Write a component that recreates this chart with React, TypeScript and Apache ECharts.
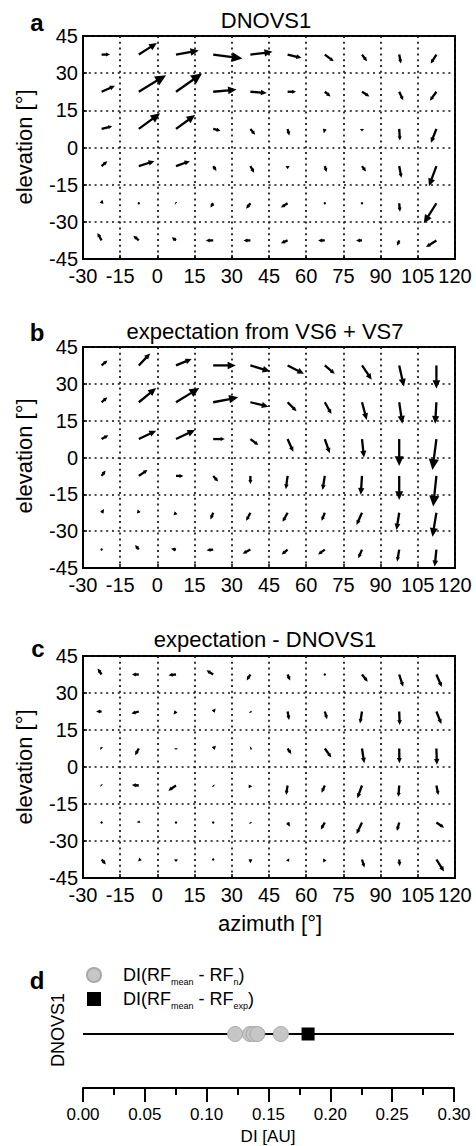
import React, { useEffect, useRef } from 'react';
import * as echarts from 'echarts';

const FONT = "'Liberation Sans', Arial, Helvetica, sans-serif";
const W = 476;
const H = 1146;

// grid of vector tails (cell centres)
const azimuths = [-22.5, -7.5, 7.5, 22.5, 37.5, 52.5, 67.5, 82.5, 97.5, 112.5];
const elevations = [37.5, 22.5, 7.5, -7.5, -22.5, -37.5];

// panel a: DNOVS1 (u = azimuth component, v = elevation component, degrees)
const panelA_U = [
  [3.4, 7.3, 9.2, 11.8, 8.9, 5.6, 3.6, 2.0, 0.7, -2.3],
  [5.4, 11.0, 10.5, 9.4, 6.6, 3.4, 2.3, 3.0, 1.6, -2.6],
  [4.3, 8.6, 7.7, 3.0, 1.9, 0.7, -0.4, 0.0, 0.3, -2.2],
  [2.3, 6.3, 5.6, 1.3, 1.5, 0.0, 0.7, 1.6, 0.9, -3.0],
  [0.3, 0.2, -0.3, -1.1, -1.7, -2.7, 0.0, 0.1, 0.3, -5.1],
  [-1.7, -2.2, -1.7, -3.0, -2.8, -2.7, -2.7, -2.4, -0.8, -4.2],
];
const panelA_V = [
  [0.0, 4.7, 1.6, -1.6, 1.1, -1.3, -2.7, -2.7, -3.6, -3.6],
  [2.4, 6.7, 7.4, 0.9, -0.5, 0.0, -1.9, -1.9, -3.4, -3.6],
  [1.1, 6.3, 5.6, -0.7, -2.4, -2.7, -1.7, -1.0, -4.7, -5.6],
  [2.0, 2.0, 2.0, -2.0, -2.7, -1.3, -2.4, -2.2, -4.7, -8.1],
  [1.4, 0.2, 0.3, -1.7, -2.2, -1.7, -0.4, 0.3, -3.4, -8.1],
  [3.0, 1.9, 1.3, 0.0, 0.0, -1.1, 0.0, 0.0, -2.2, -2.7],
];

// panel b: expectation from VS6 + VS7
const panelB_U = [
  [2.4, 4.6, 6.3, 9.1, 7.9, 6.6, 4.0, 3.9, 1.9, 0.0],
  [2.3, 7.0, 9.4, 10.1, 7.3, 3.6, 2.7, 1.9, 1.3, -0.5],
  [2.7, 7.0, 7.7, 4.7, 3.2, 2.3, 2.0, 0.8, 0.0, -1.6],
  [1.6, 3.5, 3.0, 2.0, 0.0, -0.7, -0.9, -0.5, 0.0, -1.3],
  [1.0, -0.5, -1.0, -1.1, -1.7, -2.0, -1.3, -2.2, -1.1, -1.6],
  [0.0, -1.5, -2.0, -2.7, -3.1, -2.4, -2.7, -1.5, -0.8, -0.7],
];
const panelB_V = [
  [2.0, 4.9, 2.6, 0.0, -2.4, -3.4, -3.4, -5.8, -8.6, -9.5],
  [2.0, 5.8, 5.8, 2.0, -1.8, -3.7, -4.8, -7.2, -8.8, -8.8],
  [1.6, 3.4, 3.7, 0.0, -2.4, -5.2, -5.8, -7.5, -11.0, -12.6],
  [2.2, 2.4, 0.0, -2.3, -3.3, -5.4, -5.7, -7.7, -9.8, -12.5],
  [1.5, 1.3, -1.0, -2.7, -3.3, -3.7, -3.3, -5.0, -7.0, -9.8],
  [0.4, 1.9, 0.3, -0.3, -1.7, -2.0, -2.0, -3.5, -4.9, -6.9],
];

// panel c: expectation - DNOVS1
const panelC_U = [
  [-1.6, -2.8, -3.0, -2.7, -1.5, 1.0, 0.1, 2.3, 1.6, 2.2],
  [-2.2, -3.0, -1.0, 1.0, 0.3, 0.6, 0.9, -0.8, 0.2, 2.0],
  [-0.5, -1.5, 0.0, 1.1, 0.6, 1.5, 2.6, 0.9, 0.1, 0.2],
  [-0.3, -2.8, -3.1, 0.3, -0.7, -0.6, -1.3, -1.9, -0.3, 0.8],
  [0.0, 0.1, -0.3, 0.0, 0.2, 0.9, -1.6, -2.2, -0.9, 3.1],
  [1.7, 1.2, 0.0, 0.0, 0.0, 0.6, -0.6, 1.0, 0.2, 3.1],
];
const panelC_V = [
  [2.4, 0.0, -0.3, 1.7, -2.4, -2.4, 0.0, -2.9, -5.0, -5.1],
  [0.0, -0.8, -1.2, 1.2, -0.5, -3.4, -3.1, -4.9, -5.5, -5.1],
  [0.5, -2.7, -0.5, 1.1, 0.2, -2.2, -3.6, -6.0, -6.0, -6.6],
  [0.3, 0.2, -2.1, -0.4, -1.1, -3.8, -2.9, -5.2, -4.6, -3.9],
  [0.2, 0.8, 0.0, -0.1, -0.4, -1.7, -2.8, -4.7, -3.4, -2.1],
  [-2.0, -0.3, -1.0, -0.2, -1.5, -0.9, -1.2, -3.2, -2.7, -4.9],
];

const panelTitles = ['DNOVS1', 'expectation from VS6 + VS7', 'expectation - DNOVS1'];

// panel d
const diNames = ['DI(RF_mean - RF_n)', 'DI(RF_mean - RF_exp)'];
const diSingle = [0.123, 0.135, 0.138, 0.141, 0.16];
const diExpected = [0.182];

function toQuiver(U: number[][], V: number[][]) {
  const out: number[][] = [];
  elevations.forEach((el, r) =>
    azimuths.forEach((az, c) => out.push([az, el, U[r][c], V[r][c]]))
  );
  return out;
}

const renderArrow = (_params: any, api: any) => {
  const x = api.value(0);
  const y = api.value(1);
  const u = api.value(2);
  const v = api.value(3);
  const p0 = api.coord([x, y]);
  const p1 = api.coord([x + u, y + v]);
  const dx = p1[0] - p0[0];
  const dy = p1[1] - p0[1];
  const L = Math.hypot(dx, dy);
  if (L < 1) {
    return { type: 'circle', shape: { cx: p0[0], cy: p0[1], r: 1.2 }, style: { fill: '#000' } };
  }
  const ux = dx / L;
  const uy = dy / L;
  const hl = Math.min(L, Math.max(4, Math.min(0.36 * L, 11)));
  const hw = Math.max(2, hl * 0.46);
  const bx = p1[0] - ux * hl;
  const by = p1[1] - uy * hl;
  return {
    type: 'group',
    children: [
      {
        type: 'line',
        shape: { x1: p0[0], y1: p0[1], x2: bx + ux * 0.5, y2: by + uy * 0.5 },
        style: { stroke: '#000', lineWidth: 2.3 },
      },
      {
        type: 'polygon',
        shape: {
          points: [
            [p1[0], p1[1]],
            [bx - uy * hw, by + ux * hw],
            [bx + uy * hw, by - ux * hw],
          ],
        },
        style: { fill: '#000' },
      },
    ],
  };
};

const gridTops = [36, 347, 656];
const gridHeights = [223, 221, 222];

function text(x: number, y: number, t: string, size: number, opts: any = {}) {
  return {
    type: 'text',
    x,
    y,
    rotation: opts.rotation || 0,
    style: {
      text: t,
      fontSize: size,
      fontFamily: FONT,
      fontWeight: opts.bold ? 'bold' : 'normal',
      fill: '#000',
      align: 'center',
      verticalAlign: 'middle',
      textAlign: 'center',
      textVerticalAlign: 'middle',
    },
  };
}

export default function App() {
  const ref = useRef<HTMLDivElement>(null);
  useEffect(() => {
    if (!ref.current) return;
    const chart = echarts.init(ref.current, undefined, { renderer: 'svg', width: W, height: H });

    const grids: any[] = [];
    const xAxes: any[] = [];
    const yAxes: any[] = [];
    const series: any[] = [];
    const quivers = [
      toQuiver(panelA_U, panelA_V),
      toQuiver(panelB_U, panelB_V),
      toQuiver(panelC_U, panelC_V),
    ];

    for (let i = 0; i < 3; i++) {
      grids.push({
        left: 83,
        top: gridTops[i],
        width: 372,
        height: gridHeights[i],
        show: true,
        borderColor: '#000',
        borderWidth: 2,
        backgroundColor: 'transparent',
      });
      xAxes.push({
        type: 'value',
        gridIndex: i,
        min: -30,
        max: 120,
        interval: 15,
        axisLine: { show: true, onZero: false, lineStyle: { color: '#000', width: 2 } },
        axisTick: { show: true, inside: true, length: 4, lineStyle: { color: '#000', width: 1.5 } },
        axisLabel: { fontSize: 20, color: '#000', fontFamily: FONT, margin: 7 },
        splitLine: { show: true, lineStyle: { color: '#111', type: [2, 3.8], width: 1.7 } },
      });
      yAxes.push({
        type: 'value',
        gridIndex: i,
        min: -45,
        max: 45,
        interval: 15,
        axisLine: { show: true, onZero: false, lineStyle: { color: '#000', width: 2 } },
        axisTick: { show: true, inside: true, length: 4, lineStyle: { color: '#000', width: 1.5 } },
        axisLabel: { fontSize: 20, color: '#000', fontFamily: FONT, margin: 5 },
        splitLine: { show: true, lineStyle: { color: '#111', type: [2, 3.8], width: 1.7 } },
      });
      series.push({
        type: 'custom',
        name: panelTitles[i],
        xAxisIndex: i,
        yAxisIndex: i,
        coordinateSystem: 'cartesian2d',
        encode: { x: 0, y: 1 },
        data: quivers[i],
        renderItem: renderArrow,
        z: 5,
      });
    }

    // panel d
    grids.push({ left: 83, top: 980, width: 371, height: 108, show: false });
    xAxes.push({
      type: 'value',
      gridIndex: 3,
      min: 0,
      max: 0.3,
      interval: 0.05,
      axisLine: { show: true, onZero: false, lineStyle: { color: '#000', width: 2 } },
      axisTick: { show: true, length: 14, lineStyle: { color: '#000', width: 2 } },
      minorTick: { show: true, splitNumber: 2, length: 7, lineStyle: { color: '#000', width: 2 } },
      axisLabel: {
        fontSize: 17,
        color: '#000',
        fontFamily: FONT,
        margin: 18,
        formatter: (v: number) => v.toFixed(2),
      },
      splitLine: { show: false },
    });
    yAxes.push({ type: 'value', gridIndex: 3, show: false, min: 0, max: 1 });
    series.push({
      type: 'line',
      name: 'baseline',
      xAxisIndex: 3,
      yAxisIndex: 3,
      data: [
        [0, 0.5],
        [0.3, 0.5],
      ],
      showSymbol: false,
      symbol: 'none',
      lineStyle: { color: '#000', width: 2 },
      z: 1,
      silent: true,
    });
    series.push({
      type: 'scatter',
      name: diNames[0],
      xAxisIndex: 3,
      yAxisIndex: 3,
      data: diSingle.map((v) => [v, 0.5]),
      symbol: 'circle',
      symbolSize: 15,
      itemStyle: { color: '#c6c6c6', borderColor: '#a9a9a9', borderWidth: 1, opacity: 1 },
      z: 3,
    });
    series.push({
      type: 'scatter',
      name: diNames[1],
      xAxisIndex: 3,
      yAxisIndex: 3,
      data: diExpected.map((v) => [v, 0.5]),
      symbol: 'rect',
      symbolSize: 13,
      itemStyle: { color: '#000', opacity: 1 },
      z: 4,
    });

    const richM = { fontSize: 18, fontFamily: FONT, color: '#000', lineHeight: 22, verticalAlign: 'middle' };
    const richS = { fontSize: 9, fontFamily: FONT, color: '#000', lineHeight: 10, verticalAlign: 'bottom' };

    const graphics: any[] = [
      text(37, 22, 'a', 24, { bold: true }),
      text(37, 332, 'b', 24, { bold: true }),
      text(38, 648, 'c', 24, { bold: true }),
      text(37, 980, 'd', 24, { bold: true }),
      text(266, 20, panelTitles[0], 22),
      text(265, 331, panelTitles[1], 22),
      text(265, 639, panelTitles[2], 22),
      text(24, 147, 'elevation [°]', 22, { rotation: Math.PI / 2 }),
      text(24, 456, 'elevation [°]', 22, { rotation: Math.PI / 2 }),
      text(24, 767, 'elevation [°]', 22, { rotation: Math.PI / 2 }),
      text(270, 923, 'azimuth [°]', 22),
      text(58, 1030, 'DNOVS1', 18, { rotation: Math.PI / 2 }),
      text(268, 1136, 'DI [AU]', 17),
    ];

    chart.setOption({
      animation: false,
      backgroundColor: '#fff',
      grid: grids,
      xAxis: xAxes,
      yAxis: yAxes,
      series,
      legend: {
        orient: 'vertical',
        left: 86,
        top: 966,
        itemWidth: 14,
        itemHeight: 14,
        itemGap: 4,
        padding: 0,
        selectedMode: false,
        data: [
          { name: diNames[0], icon: 'circle' },
          { name: diNames[1], icon: 'rect' },
        ],
        formatter: (name: string) =>
          name === diNames[0]
            ? '{g| }{m|DI(RF}{s|mean}{m| - RF}{s|n}{m|)}'
            : '{g| }{m|DI(RF}{s|mean}{m| - RF}{s|exp}{m|)}',
        textStyle: {
          rich: {
            g: { width: 17, lineHeight: 22, fontSize: 10 },
            m: richM,
            s: richS,
          },
        },
      },
      graphic: graphics,
    });

    return () => chart.dispose();
  }, []);

  return (
    <div
      ref={ref}
      style={{ position: 'absolute', left: 0, top: 0, width: W, height: H, background: '#fff' }}
    />
  );
}
